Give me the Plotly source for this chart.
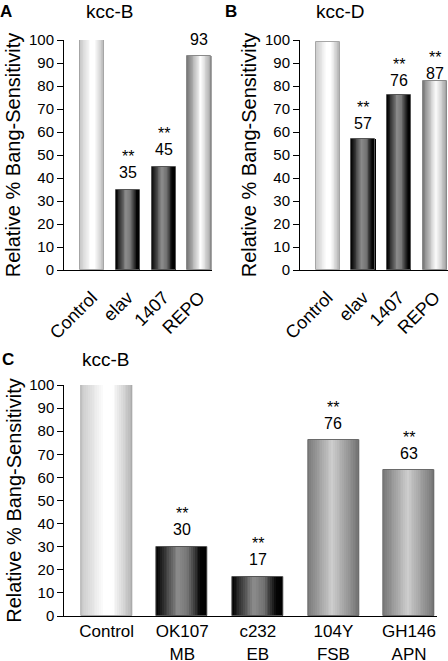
import plotly.graph_objects as go

# ---------------- data ----------------
cats_a = ["Control", "elav", "1407", "REPO"]
vals_a = [100, 35, 45, 93]
lbl_a = ["", "35", "45", "93"]
star_a = ["", "**", "**", ""]

cats_b = ["Control", "elav", "1407", "REPO"]
vals_b = [99, 57, 76, 82]
lbl_b = ["", "57", "76", "87"]
star_b = ["", "**", "**", "**"]

cats_c = ["Control", "OK107<br>MB", "c232<br>EB", "104Y<br>FSB", "GH146<br>APN"]
vals_c = [100, 30, 17, 76, 63]
lbl_c = ["", "30", "17", "76", "63"]
star_c = ["", "**", "**", "**", "**"]

y_ticks = [0, 10, 20, 30, 40, 50, 60, 70, 80, 90, 100]
y_title = "Relative % Bang-Sensitivity"

# ---------------- styles ----------------
style_a = ["light", "dark", "dark", "greywhite"]
style_b = ["light", "dark", "dark", "greywhite"]
style_c = ["light", "dark", "dark", "mid", "mid"]
num_shift_b = [15, 15, 15, 8]

GRAD = {
    "light": [(0, (200, 200, 200)), (0.45, (255, 255, 255)), (0.62, (255, 255, 255)), (1, (180, 180, 180))],
    "dark": [(0, (0, 0, 0)), (0.42, (140, 140, 140)), (0.62, (115, 115, 115)), (0.86, (5, 5, 5)), (1, (0, 0, 0))],
    "greywhite": [(0, (120, 120, 120)), (0.55, (255, 255, 255)), (1, (160, 160, 160))],
    "mid": [(0, (120, 120, 120)), (0.48, (205, 205, 205)), (1, (115, 115, 115))],
}
OUTLINE = {"light": "#a6a6a6", "dark": "#555555", "greywhite": "#8a8a8a", "mid": "#6a6a6a"}
FONT = "Liberation Sans, Arial, sans-serif"
N = 28


def grad_color(style, t):
    stops = GRAD[style]
    for (t0, c0), (t1, c1) in zip(stops[:-1], stops[1:]):
        if t0 <= t <= t1:
            f = (t - t0) / (t1 - t0) if t1 > t0 else 0
            c = [round(a + (b - a) * f) for a, b in zip(c0, c1)]
            return "rgb(%d,%d,%d)" % tuple(c)
    return "rgb(%d,%d,%d)" % stops[-1][1]


fig = go.Figure()


def add_panel(xa, ya, cats, vals, styles, width):
    idx = list(range(len(cats)))
    for k in range(N):
        t = (k + 0.5) / N
        cut = k * width / N
        fig.add_trace(go.Bar(
            x=[i + cut / 2 for i in idx], y=vals, xaxis=xa, yaxis=ya,
            width=[width - cut] * len(cats),
            marker=dict(color=[grad_color(s, t) for s in styles], line=dict(width=0)),
            showlegend=False, hoverinfo="skip"))
    fig.add_trace(go.Bar(
        x=idx, y=vals, xaxis=xa, yaxis=ya, width=[width] * len(cats),
        marker=dict(color="rgba(0,0,0,0)",
                    line=dict(color=[OUTLINE[s] for s in styles], width=1)),
        showlegend=False, hoverinfo="skip"))


add_panel("x", "y", cats_a, vals_a, style_a, 0.67)
add_panel("x2", "y2", cats_b, vals_b, style_b, 0.67)
add_panel("x3", "y3", cats_c, vals_c, style_c, 0.675)

ann = []


def add_labels(xref, yref, cats, vals, lbls, stars, shifts=None):
    for i, (v, l, s) in enumerate(zip(vals, lbls, stars)):
        sh = shifts[i] if shifts else 17
        if l:
            ann.append(dict(x=i, y=v, xref=xref, yref=yref, text=l, showarrow=False,
                            yanchor="middle", yshift=sh, font=dict(size=16, family=FONT, color="black")))
        if s:
            ann.append(dict(x=i, y=v, xref=xref, yref=yref, text=s, showarrow=False,
                            yanchor="middle", yshift=sh + 16, font=dict(size=16, family=FONT, color="black")))


add_labels("x", "y", cats_a, vals_a, lbl_a, star_a)
add_labels("x2", "y2", cats_b, vals_b, lbl_b, star_b, num_shift_b)
add_labels("x3", "y3", cats_c, vals_c, lbl_c, star_c)


def ptxt(text, x, y, bold=False, size=19):
    ann.append(dict(text="<b>%s</b>" % text if bold else text, x=x / 448, y=1 - y / 661,
                    xref="paper", yref="paper", showarrow=False,
                    xanchor="center", yanchor="middle",
                    font=dict(size=size, family=FONT, color="black")))


ptxt("A", 6, 12, True, 17)
ptxt("kcc-B", 110, 12)
ptxt("B", 231, 12, True, 17)
ptxt("kcc-D", 340, 12)
ptxt("C", 8, 359, True, 17)
ptxt("kcc-B", 106, 359)

yax = dict(range=[0, 100], tickvals=y_ticks, ticks="outside", ticklen=6, tickwidth=1,
           tickcolor="black", showline=True, linecolor="black", linewidth=1,
           showgrid=False, zeroline=False, tickfont=dict(size=15, family=FONT, color="black"),
           title=dict(text=y_title, font=dict(size=20, family=FONT, color="black"), standoff=2),
           fixedrange=True, automargin=False)
xax = dict(showline=True, linecolor="black", linewidth=1, ticks="", showgrid=False,
           zeroline=False, tickfont=dict(size=18, family=FONT, color="black"), fixedrange=True,
           automargin=False)


def px_dom(a, b, total):
    return [a / total, b / total]


fig.update_layout(
    width=448, height=661, margin=dict(l=0, r=0, t=0, b=0, autoexpand=False),
    paper_bgcolor="white", plot_bgcolor="white", barmode="overlay", bargap=0,
    font=dict(family=FONT, color="black"),
    xaxis=dict(xax, domain=px_dom(64, 212, 448), range=[-0.78, 3.35], tickangle=-45,
               ticklabelstandoff=9,
               tickvals=list(range(len(cats_a))), ticktext=cats_a, anchor="y"),
    yaxis=dict(yax, domain=[1 - 270 / 661, 1 - 40 / 661], anchor="x"),
    xaxis2=dict(xax, domain=px_dom(300, 448, 448), range=[-0.77, 3.37], tickangle=-45,
                ticklabelstandoff=9,
                tickvals=list(range(len(cats_b))), ticktext=cats_b, anchor="y2"),
    yaxis2=dict(yax, domain=[1 - 270 / 661, 1 - 40 / 661], anchor="x2"),
    xaxis3=dict(xax, domain=px_dom(64.3, 437, 448), range=[-0.56, 4.37], tickangle=0,
                tickfont=dict(size=17, family=FONT, color="black"),
                tickvals=list(range(len(cats_c))), ticktext=cats_c, anchor="y3"),
    yaxis3=dict(yax, domain=[1 - 616 / 661, 1 - 385 / 661], anchor="x3"),
    annotations=ann,
)

fig.write_html("out.html", config={"displayModeBar": False},
               post_script="document.body.style.margin='0';"
                           "document.documentElement.style.overflow='hidden';")
